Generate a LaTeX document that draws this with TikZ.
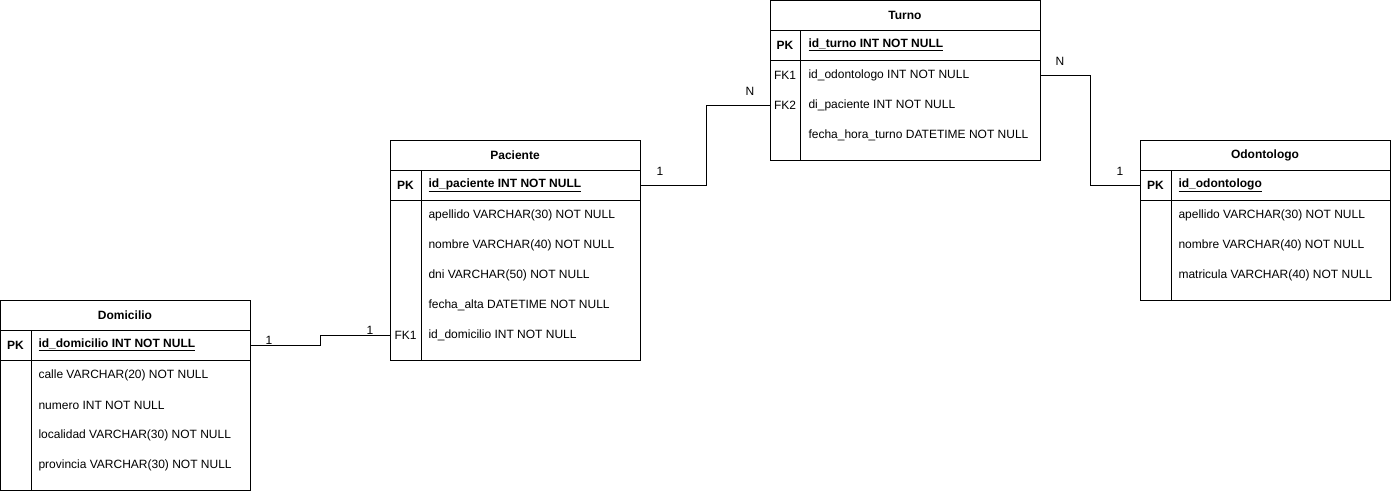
\documentclass[tikz,border=0pt]{standalone}
\usepackage{fontspec}
\setmainfont{Liberation Sans}
\usetikzlibrary{positioning}

\begin{document}
\begin{tikzpicture}[x=1pt,y=-1pt,line width=1pt,node distance=0pt,
    font=\fontsize{12}{14}\selectfont,
    head/.style={draw,minimum height=30,inner sep=0pt,outer sep=0pt,font=\fontsize{12}{14}\selectfont\bfseries},
    pkrow/.style={draw,minimum height=30,inner sep=0pt,outer sep=0pt},
    body/.style={draw,inner sep=0pt,outer sep=0pt},
    field/.style={anchor=west,inner sep=0pt},
    keytag/.style={inner sep=0pt},
    card/.style={inner sep=0pt}]
   \useasboundingbox (0,0) rectangle (1391,491);

   % Domicilio
   \node[head,minimum width=250] (dom) at (125,315) {Domicilio};
   \node[pkrow,minimum width=250] (dom_pk) [below=of dom] {};
   \node[body,minimum width=250,minimum height=130] (dom_body) [below=of dom_pk] {};
   \draw ([xshift=31]dom_pk.north west) -- ([xshift=31]dom_body.south west);
   \node[keytag,font=\fontsize{12}{14}\selectfont\bfseries] at ([xshift=15.5]dom_pk.west) {PK};
   \node[field,font=\fontsize{12}{14}\selectfont\bfseries] at ([xshift=38]dom_pk.west) {\underline{id\_domicilio INT NOT NULL}};
   \foreach \f [count=\i] in {calle VARCHAR(20) NOT NULL,numero INT NOT NULL,
       localidad VARCHAR(30) NOT NULL,provincia VARCHAR(30) NOT NULL}
     \node[field] at ([xshift=38,yshift=-15-30*(\i-1)]dom_body.north west) {\f};

   % Paciente
   \node[head,minimum width=250] (pac) at (515,155) {Paciente};
   \node[pkrow,minimum width=250] (pac_pk) [below=of pac] {};
   \node[body,minimum width=250,minimum height=160] (pac_body) [below=of pac_pk] {};
   \draw ([xshift=31]pac_pk.north west) -- ([xshift=31]pac_body.south west);
   \node[keytag,font=\fontsize{12}{14}\selectfont\bfseries] at ([xshift=15.5]pac_pk.west) {PK};
   \node[field,font=\fontsize{12}{14}\selectfont\bfseries] at ([xshift=38]pac_pk.west) {\underline{id\_paciente INT NOT NULL}};
   \foreach \f [count=\i] in {apellido VARCHAR(30) NOT NULL,nombre VARCHAR(40) NOT NULL,
       dni VARCHAR(50) NOT NULL,fecha\_alta DATETIME NOT NULL,id\_domicilio INT NOT NULL}
     \node[field] at ([xshift=38,yshift=-15-30*(\i-1)]pac_body.north west) {\f};
   \node[keytag] (pac_fk1) at ([xshift=15.5,yshift=-135]pac_body.north west) {FK1};

   % Turno
   \node[head,minimum width=270] (tur) at (905,15) {Turno};
   \node[pkrow,minimum width=270] (tur_pk) [below=of tur] {};
   \node[body,minimum width=270,minimum height=100] (tur_body) [below=of tur_pk] {};
   \draw ([xshift=30]tur_pk.north west) -- ([xshift=30]tur_body.south west);
   \node[keytag,font=\fontsize{12}{14}\selectfont\bfseries] at ([xshift=15]tur_pk.west) {PK};
   \node[field,font=\fontsize{12}{14}\selectfont\bfseries] at ([xshift=38]tur_pk.west) {\underline{id\_turno INT NOT NULL}};
   \foreach \f [count=\i] in {id\_odontologo INT NOT NULL,di\_paciente INT NOT NULL,
       fecha\_hora\_turno DATETIME NOT NULL}
     \node[field] at ([xshift=38,yshift=-15-30*(\i-1)]tur_body.north west) {\f};
   \node[keytag] (tur_fk1) at ([xshift=15,yshift=-15]tur_body.north west) {FK1};
   \node[keytag] (tur_fk2) at ([xshift=15,yshift=-45]tur_body.north west) {FK2};

   % Odontologo
   \node[head,minimum width=250] (odo) at (1265,155) {Odontologo};
   \node[pkrow,minimum width=250] (odo_pk) [below=of odo] {};
   \node[body,minimum width=250,minimum height=100] (odo_body) [below=of odo_pk] {};
   \draw ([xshift=31]odo_pk.north west) -- ([xshift=31]odo_body.south west);
   \node[keytag,font=\fontsize{12}{14}\selectfont\bfseries] at ([xshift=15.5]odo_pk.west) {PK};
   \node[field,font=\fontsize{12}{14}\selectfont\bfseries] at ([xshift=38]odo_pk.west) {\underline{id\_odontologo}};
   \foreach \f [count=\i] in {apellido VARCHAR(30) NOT NULL,nombre VARCHAR(40) NOT NULL,
       matricula VARCHAR(40) NOT NULL}
     \node[field] at ([xshift=38,yshift=-15-30*(\i-1)]odo_body.north west) {\f};

   % relations
   \draw (dom_pk.east) -- ++(70,0) |- (pac_body.west |- pac_fk1);
   \draw (pac_pk.east) -- ++(66,0) |- (tur_body.west |- tur_fk2);
   \draw (tur_body.east |- tur_fk1) -- ++(50,0) |- (odo_pk.west);
   \node[card] at (269,340) {1};
   \node[card] at (370,330) {1};
   \node[card] at (660,171) {1};
   \node[card] at (750,91) {N};
   \node[card] at (1060,61) {N};
   \node[card] at (1120,171) {1};
\end{tikzpicture}
\end{document}
